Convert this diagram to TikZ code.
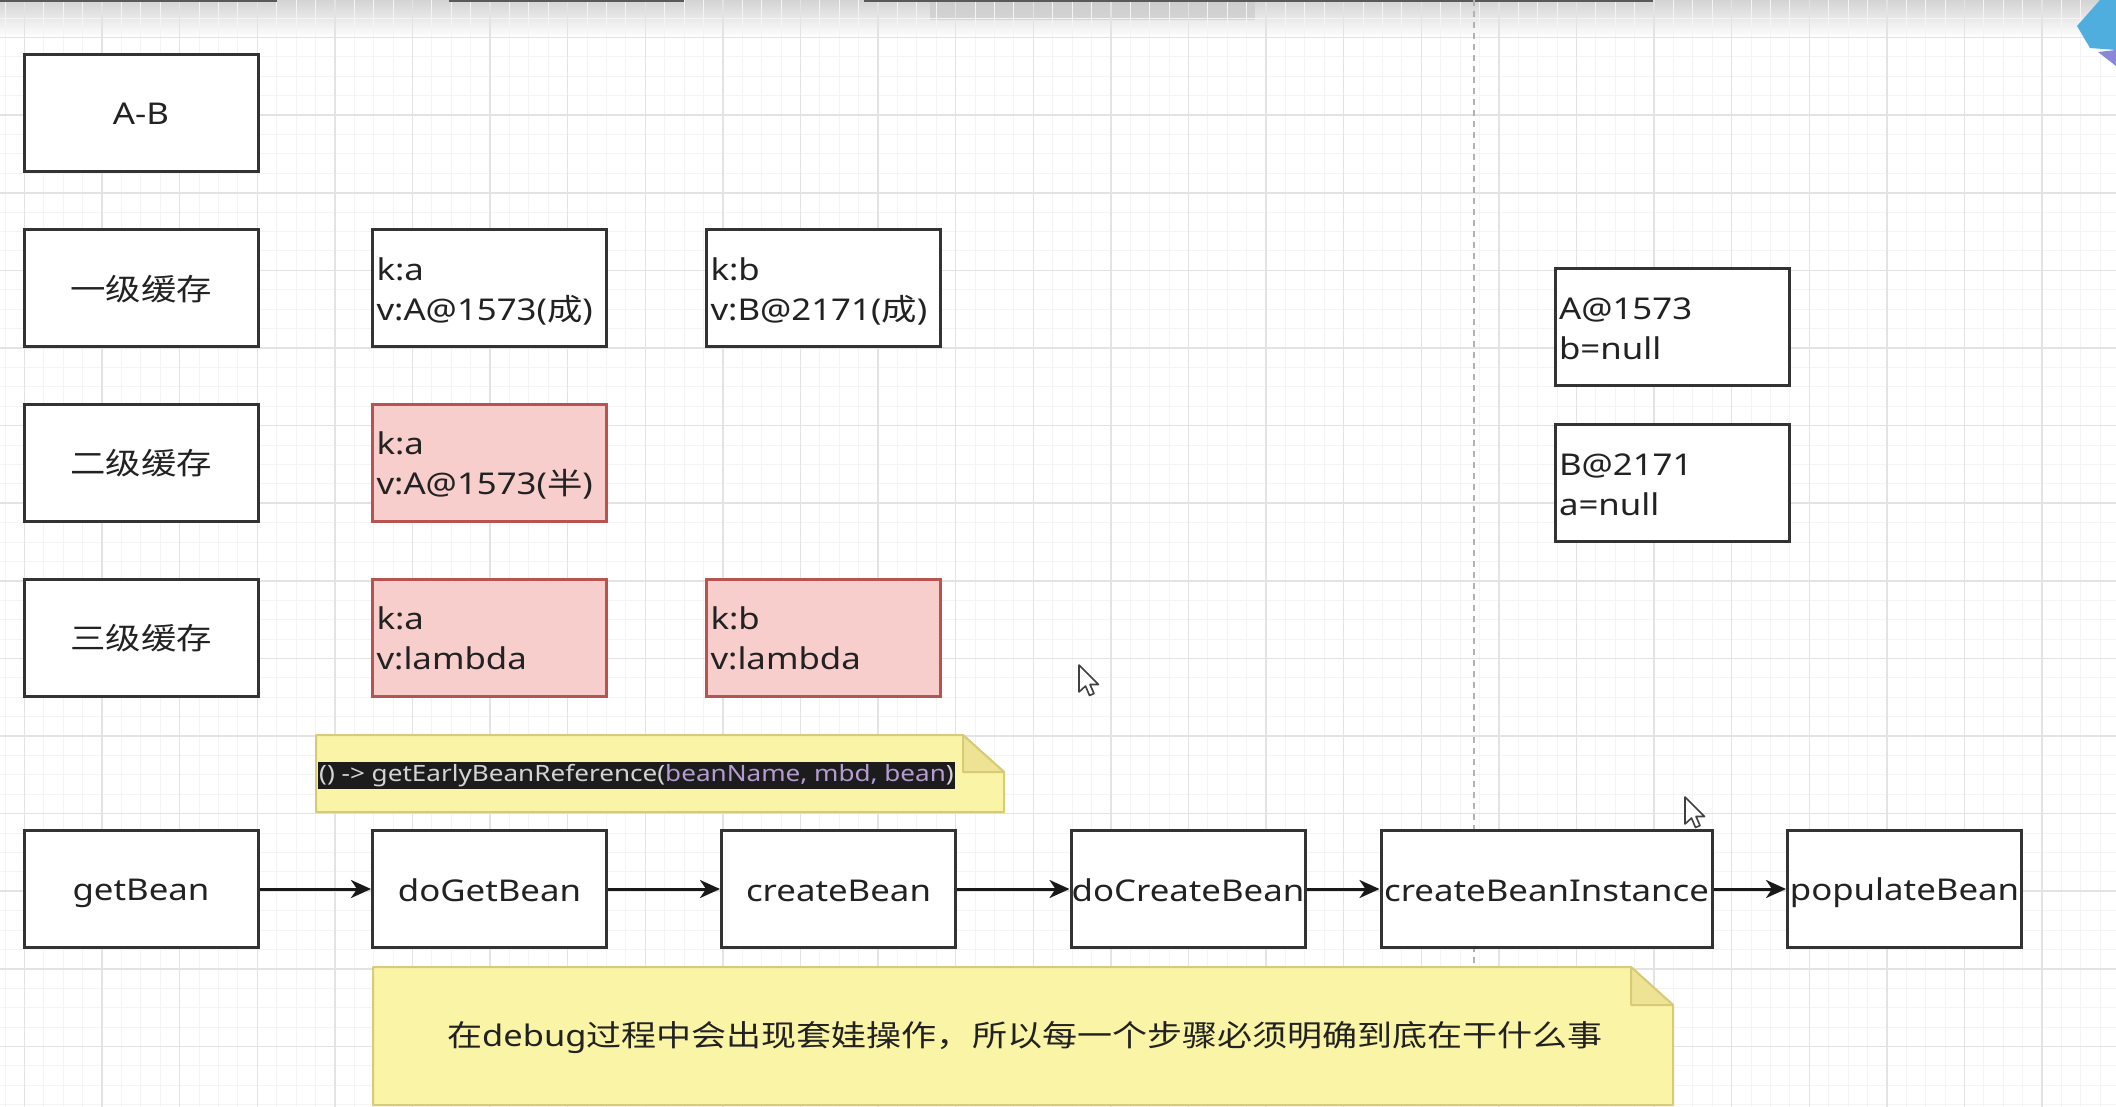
\documentclass[tikz,border=0pt]{standalone}
\usepackage{fontspec}
\setmainfont[FakeStretch=1.16]{Noto Sans}
\newfontfamily\cjk[FakeStretch=1.18]{Noto Sans CJK SC}
\usetikzlibrary{arrows.meta}
\definecolor{boxline}{HTML}{333333}
\definecolor{txt}{HTML}{222222}
\definecolor{pinkfill}{HTML}{F8CECC}
\definecolor{pinkline}{HTML}{B85450}
\definecolor{notefill}{HTML}{FAF4A6}
\definecolor{noteline}{HTML}{D8CB78}
\definecolor{notefold}{HTML}{EEE394}
\definecolor{gridmajor}{HTML}{E3E3E3}
\definecolor{gridminor}{HTML}{F4F4F4}
\definecolor{codebg}{HTML}{1C1C1C}
\definecolor{codegray}{HTML}{D4D4D4}
\definecolor{codepurple}{HTML}{B59CD0}
\definecolor{iconblue}{HTML}{4FAEDD}
\definecolor{iconpurple}{HTML}{8A86D8}
\newcommand\boxstrut{\rule[-7pt]{0pt}{38pt}}
\tikzset{
  box/.style={draw=boxline, line width=3pt, fill=white, minimum width=234pt,
    minimum height=117pt, inner sep=0pt, text=txt,
    font=\fontsize{30}{40}\selectfont,
    execute at begin node=\boxstrut, execute at end node=\boxstrut},
  kv/.style={box, align=left, text width=226pt, inner xsep=4pt},
  pinkbox/.style={kv, fill=pinkfill, draw=pinkline},
  flow/.style={line width=3pt, draw=black!90,
    -{Stealth[length=20pt,width=18pt,inset=6pt]}},
  notegeom/.style={inner sep=0pt, outer sep=0pt},
  noteshape/.style={fill=notefill, draw=noteline, line width=2pt, line join=round},
  foldshape/.style={fill=notefold, draw=noteline, line width=2pt, line join=round},
  pagebreak/.style={draw=black!30, line width=1.5pt, dash pattern=on 6pt off 5pt},
  cursor/.style={fill=white, draw=black!75, line width=1.6pt, line join=round},
}
\begin{document}
\begin{tikzpicture}[x=1pt,y=-1pt]
\useasboundingbox (0,0) rectangle (2116,1107);
\fill[white] (0,0) rectangle (2116,1107);
% top fade of the screen capture
\shade[top color=black!17, bottom color=white] (0,0) rectangle (2116,38);
\fill[black!22, opacity=0.6] (930,0) rectangle (1255,20);
% grid
\foreach \k in {-1,...,108} {
  \draw[gridminor, line width=1pt] ({24.5+19.4*\k},0) -- ({24.5+19.4*\k},1107);
}
\foreach \k in {-1,...,55} {
  \draw[gridminor, line width=1pt] (0,{37.6+19.4*\k}) -- (2116,{37.6+19.4*\k});
}
\foreach \k in {0,...,26} {
  \draw[gridmajor, line width=1.5pt] ({24.5+77.6*\k},0) -- ({24.5+77.6*\k},1107);
}
\foreach \k in {0,...,13} {
  \draw[gridmajor, line width=1.5pt] (0,{37.6+77.6*\k}) -- (2116,{37.6+77.6*\k});
}
% top edge remnants
\draw[black!65, line width=3pt] (0,1) -- (277,1);
\draw[black!65, line width=3pt] (449,1) -- (684,1);
\draw[black!65, line width=3pt] (864,1) -- (1653,1);
% top right icon
\fill[iconblue] (2077,26) -- (2100,0) -- (2116,0) -- (2116,50) -- (2090,48) -- cycle;
\fill[iconpurple] (2098,52) -- (2116,50) -- (2116,66) -- cycle;
% page break line
\draw[pagebreak] (1474,0) -- (1474,1107);

% left column
\node[box] (ab) at (141,113) {A-B};
\node[box] (l1) at (141,288) {\cjk 一级缓存};
\node[box] (l2) at (141,462.5) {\cjk 二级缓存};
\node[box] (l3) at (141,637.5) {\cjk 三级缓存};

% cache entries
\node[kv] (c1a) at (489.5,288) {k:a\\v:A@1573({\cjk 成})};
\node[kv] (c1b) at (823.5,288) {k:b\\v:B@2171({\cjk 成})};
\node[pinkbox] (c2a) at (489.5,462.5) {k:a\\v:A@1573({\cjk 半})};
\node[pinkbox] (c3a) at (489.5,637.5) {k:a\\v:lambda};
\node[pinkbox] (c3b) at (823.5,637.5) {k:b\\v:lambda};

% objects
\node[kv] (oa) at (1672,327) {A@1573\\b=null};
\node[kv] (ob) at (1672,483) {B@2171\\a=null};

% note 1
\node[notegeom, minimum width=688pt, minimum height=77pt] (n1) at (660,773.5) {};
\path[noteshape] (n1.north west) -- ([xshift=-41pt]n1.north east)
  -- ([yshift=-37pt]n1.north east) -- (n1.south east) -- (n1.south west) -- cycle;
\path[foldshape] ([xshift=-41pt]n1.north east) -- ([xshift=-41pt,yshift=-37pt]n1.north east)
  -- ([yshift=-37pt]n1.north east) -- cycle;
\node[anchor=west, fill=codebg, inner xsep=1pt, inner ysep=2pt,
  font=\fontsize{22.5}{26}\selectfont] (code) at ([xshift=2pt,yshift=-2pt]n1.west)
  {\textcolor{codegray}{() -> getEarlyBeanReference(}\textcolor{codepurple}{beanName, mbd, bean}\textcolor{codegray}{)}};

% call chain
\node[box] (getbean) at (141,889) {getBean};
\node[box] (dogetbean) at (489.5,889) {doGetBean};
\node[box] (createbean) at (838.5,889) {createBean};
\node[box] (docreatebean) at (1188,889) {doCreateBean};
\node[box, minimum width=331pt] (cbi) at (1546.5,889) {createBeanInstance};
\node[box] (populate) at (1904.5,889) {populateBean};
\draw[flow] (getbean) -- (dogetbean);
\draw[flow] (dogetbean) -- (createbean);
\draw[flow] (createbean) -- (docreatebean);
\draw[flow] (docreatebean) -- (cbi);
\draw[flow] (cbi) -- (populate);

% note 2
\node[notegeom, minimum width=1300pt, minimum height=138pt] (n2) at (1023,1036) {};
\path[noteshape] (n2.north west) -- ([xshift=-42pt]n2.north east)
  -- ([yshift=-38pt]n2.north east) -- (n2.south east) -- (n2.south west) -- cycle;
\path[foldshape] ([xshift=-42pt]n2.north east) -- ([xshift=-42pt,yshift=-38pt]n2.north east)
  -- ([yshift=-38pt]n2.north east) -- cycle;
\node[text=txt, font=\fontsize{29.7}{36}\selectfont] (n2text) at ([xshift=2pt,yshift=-1pt]n2.center)
  {{\cjk 在}debug{\cjk 过程中会出现套娃操作，所以每一个步骤必须明确到底在干什么事}};

% mouse cursors
\draw[cursor, shift={(1079,665)}] (0,0) -- (0,27) -- (6.5,21) -- (10.5,30.5)
  -- (15,28.5) -- (11,19.5) -- (19.5,19.5) -- cycle;
\draw[cursor, shift={(1685,797)}] (0,0) -- (0,27) -- (6.5,21) -- (10.5,30.5)
  -- (15,28.5) -- (11,19.5) -- (19.5,19.5) -- cycle;
\end{tikzpicture}
\end{document}
